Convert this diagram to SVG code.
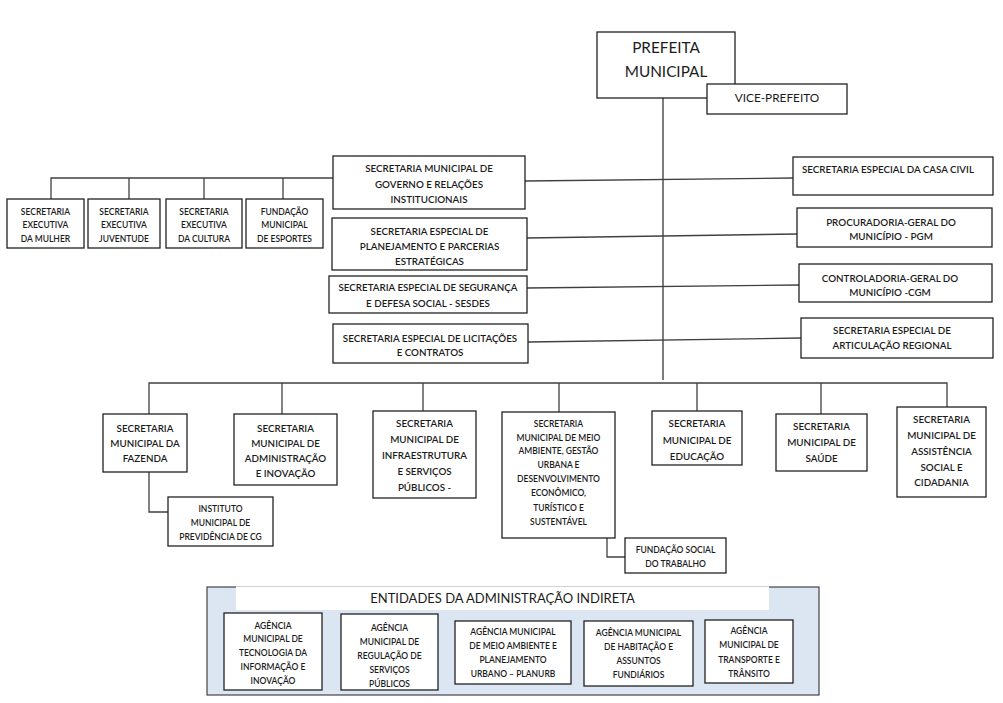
<svg xmlns="http://www.w3.org/2000/svg" width="1003" height="703" viewBox="0 0 1003 703">
<style>
  .box { fill: #ffffff; stroke: #222222; stroke-width: 1.3; }
  .t { font-family: Lato, "Liberation Sans", sans-serif; fill: #1b1b1b; text-anchor: middle; font-weight: 600; }
  .m { font-size: 9.8px; }
  .s { font-size: 8.5px; }
  .big { font-size: 15.3px; font-weight: normal; }
  .vp { font-size: 11.8px; font-weight: normal; }
  .title { font-size: 13px; font-weight: normal; }
  .ln { fill: none; stroke: #404040; stroke-width: 1.3; }
  .trunk { fill: none; stroke: #111111; stroke-width: 1.1; }
</style>
<rect width="1003" height="703" fill="#ffffff"/>

<g id="connectors">
  <line class="trunk" x1="663" y1="98" x2="663" y2="380"/>
  <polyline class="ln" points="51,199 51,178 333,178"/>
  <line class="ln" x1="129" y1="178" x2="129" y2="199"/>
  <line class="ln" x1="204" y1="178" x2="204" y2="199"/>
  <line class="ln" x1="283" y1="178" x2="283" y2="199"/>
  <line class="ln" x1="525" y1="181" x2="793" y2="178"/>
  <line class="ln" x1="527" y1="238" x2="797" y2="234"/>
  <line class="ln" x1="527" y1="288" x2="799" y2="285"/>
  <line class="ln" x1="528" y1="342" x2="801" y2="338"/>
  <polyline class="ln" points="149,414 149,383 947,383 947,407"/>
  <line class="ln" x1="282" y1="383" x2="282" y2="414"/>
  <line class="ln" x1="423" y1="383" x2="423" y2="411"/>
  <line class="ln" x1="559" y1="383" x2="559" y2="412"/>
  <line class="ln" x1="697" y1="383" x2="697" y2="411"/>
  <line class="ln" x1="821" y1="383" x2="821" y2="414"/>
  <polyline class="ln" points="149,472 149,512 168,512"/>
  <polyline class="ln" points="607,530 607,557 625,557"/>
</g>

<g id="prefeita">
  <rect class="box" x="597" y="32" width="138" height="66"/>
  <text class="t big" x="666" y="53">PREFEITA</text>
  <text class="t big" x="666" y="77">MUNICIPAL</text>
</g>
<g id="vice">
  <rect class="box" x="707" y="84" width="140" height="30"/>
  <text class="t vp" x="777" y="102">VICE-PREFEITO</text>
</g>

<g id="sec-mulher">
  <rect class="box" x="7" y="199" width="77" height="49"/>
  <text class="t s" x="45.5" y="214.5">SECRETARIA</text>
  <text class="t s" x="45.5" y="228">EXECUTIVA</text>
  <text class="t s" x="45.5" y="241.5">DA MULHER</text>
</g>
<g id="sec-juventude">
  <rect class="box" x="88" y="199" width="72" height="49"/>
  <text class="t s" x="124" y="214.5">SECRETARIA</text>
  <text class="t s" x="124" y="228">EXECUTIVA</text>
  <text class="t s" x="124" y="241.5">JUVENTUDE</text>
</g>
<g id="sec-cultura">
  <rect class="box" x="166" y="199" width="76" height="49"/>
  <text class="t s" x="204" y="214.5">SECRETARIA</text>
  <text class="t s" x="204" y="228">EXECUTIVA</text>
  <text class="t s" x="204" y="241.5">DA CULTURA</text>
</g>
<g id="fund-esportes">
  <rect class="box" x="246" y="199" width="77" height="49"/>
  <text class="t s" x="284.5" y="214.5">FUNDAÇÃO</text>
  <text class="t s" x="284.5" y="228">MUNICIPAL</text>
  <text class="t s" x="284.5" y="241.5">DE ESPORTES</text>
</g>

<g id="sec-governo">
  <rect class="box" x="333" y="156" width="192" height="53"/>
  <text class="t m" x="429" y="172">SECRETARIA MUNICIPAL DE</text>
  <text class="t m" x="429" y="187.5">GOVERNO E RELAÇÕES</text>
  <text class="t m" x="429" y="203">INSTITUCIONAIS</text>
</g>
<g id="sec-planejamento">
  <rect class="box" x="332" y="218" width="195" height="52"/>
  <text class="t m" x="429.5" y="235">SECRETARIA ESPECIAL DE</text>
  <text class="t m" x="429.5" y="250">PLANEJAMENTO E PARCERIAS</text>
  <text class="t m" x="429.5" y="265">ESTRATÉGICAS</text>
</g>
<g id="sec-seguranca">
  <rect class="box" x="329" y="276" width="198" height="37"/>
  <text class="t m" x="428" y="291">SECRETARIA ESPECIAL DE SEGURANÇA</text>
  <text class="t m" x="428" y="307">E DEFESA SOCIAL - SESDES</text>
</g>
<g id="sec-licitacoes">
  <rect class="box" x="333" y="324" width="195" height="39"/>
  <text class="t m" x="430" y="342">SECRETARIA ESPECIAL DE LICITAÇÕES</text>
  <text class="t m" x="430" y="356">E CONTRATOS</text>
</g>

<g id="casa-civil">
  <rect class="box" x="793" y="157" width="200" height="38"/>
  <text class="t m" x="888" y="173">SECRETARIA ESPECIAL DA CASA CIVIL</text>
</g>
<g id="pgm">
  <rect class="box" x="797" y="208" width="195" height="39"/>
  <text class="t m" x="891" y="226">PROCURADORIA-GERAL DO</text>
  <text class="t m" x="891" y="240">MUNICÍPIO - PGM</text>
</g>
<g id="cgm">
  <rect class="box" x="799" y="264" width="193" height="38"/>
  <text class="t m" x="890" y="282">CONTROLADORIA-GERAL DO</text>
  <text class="t m" x="890" y="296">MUNICÍPIO -CGM</text>
</g>
<g id="articulacao">
  <rect class="box" x="801" y="318" width="192" height="40"/>
  <text class="t m" x="892" y="334">SECRETARIA ESPECIAL DE</text>
  <text class="t m" x="892" y="349">ARTICULAÇÃO REGIONAL</text>
</g>

<g id="fazenda">
  <rect class="box" x="103" y="414" width="84" height="58"/>
  <text class="t m" x="145" y="432">SECRETARIA</text>
  <text class="t m" x="145" y="447">MUNICIPAL DA</text>
  <text class="t m" x="145" y="462">FAZENDA</text>
</g>
<g id="instituto">
  <rect class="box" x="168" y="497" width="105" height="49"/>
  <text class="t s" x="220.5" y="511.5">INSTITUTO</text>
  <text class="t s" x="220.5" y="525.5">MUNICIPAL DE</text>
  <text class="t s" x="220.5" y="539.5">PREVIDÊNCIA DE CG</text>
</g>
<g id="administracao">
  <rect class="box" x="234" y="414" width="103" height="71"/>
  <text class="t m" x="285.5" y="432">SECRETARIA</text>
  <text class="t m" x="285.5" y="446.5">MUNICIPAL DE</text>
  <text class="t m" x="285.5" y="462">ADMINISTRAÇÃO</text>
  <text class="t m" x="285.5" y="477">E INOVAÇÃO</text>
</g>
<g id="infraestrutura">
  <rect class="box" x="373" y="411" width="103" height="87"/>
  <text class="t m" x="424.5" y="427">SECRETARIA</text>
  <text class="t m" x="424.5" y="443">MUNICIPAL DE</text>
  <text class="t m" x="424.5" y="459">INFRAESTRUTURA</text>
  <text class="t m" x="424.5" y="475">E SERVIÇOS</text>
  <text class="t m" x="424.5" y="491">PÚBLICOS -</text>
</g>
<g id="meio-ambiente">
  <rect class="box" x="502" y="412" width="113" height="126"/>
  <text class="t s" x="558.5" y="426.5">SECRETARIA</text>
  <text class="t s" x="558.5" y="440.5">MUNICIPAL DE MEIO</text>
  <text class="t s" x="558.5" y="454">AMBIENTE, GESTÃO</text>
  <text class="t s" x="558.5" y="468">URBANA E</text>
  <text class="t s" x="558.5" y="482">DESENVOLVIMENTO</text>
  <text class="t s" x="558.5" y="496">ECONÔMICO,</text>
  <text class="t s" x="558.5" y="510.5">TURÍSTICO E</text>
  <text class="t s" x="558.5" y="524.5">SUSTENTÁVEL</text>
</g>
<g id="fundacao-social">
  <rect class="box" x="625" y="538" width="101" height="35"/>
  <text class="t s" x="675.5" y="552.5">FUNDAÇÃO SOCIAL</text>
  <text class="t s" x="675.5" y="566.5">DO TRABALHO</text>
</g>
<g id="educacao">
  <rect class="box" x="652" y="411" width="90" height="54"/>
  <text class="t m" x="697" y="427">SECRETARIA</text>
  <text class="t m" x="697" y="443.5">MUNICIPAL DE</text>
  <text class="t m" x="697" y="460">EDUCAÇÃO</text>
</g>
<g id="saude">
  <rect class="box" x="776" y="414" width="91" height="57"/>
  <text class="t m" x="821.5" y="430">SECRETARIA</text>
  <text class="t m" x="821.5" y="446">MUNICIPAL DE</text>
  <text class="t m" x="821.5" y="462">SAÚDE</text>
</g>
<g id="assistencia">
  <rect class="box" x="897" y="407" width="89" height="90"/>
  <text class="t m" x="941.5" y="423">SECRETARIA</text>
  <text class="t m" x="941.5" y="439">MUNICIPAL DE</text>
  <text class="t m" x="941.5" y="455">ASSISTÊNCIA</text>
  <text class="t m" x="941.5" y="470.5">SOCIAL E</text>
  <text class="t m" x="941.5" y="486">CIDADANIA</text>
</g>

<g id="indireta">
  <rect x="207" y="587" width="612" height="108" fill="#dce6f2" stroke="#333333" stroke-width="1.1"/>
  <rect x="236" y="586.4" width="533" height="23.6" fill="#ffffff"/>
  <text class="t title" x="502.5" y="602.5">ENTIDADES DA ADMINISTRAÇÃO INDIRETA</text>
</g>
<g id="ag-tecnologia">
  <rect class="box" x="224" y="613" width="98" height="77"/>
  <text class="t s" x="273" y="628.5">AGÊNCIA</text>
  <text class="t s" x="273" y="642">MUNICIPAL DE</text>
  <text class="t s" x="273" y="655.5">TECNOLOGIA DA</text>
  <text class="t s" x="273" y="669.5">INFORMAÇÃO E</text>
  <text class="t s" x="273" y="684">INOVAÇÃO</text>
</g>
<g id="ag-regulacao">
  <rect class="box" x="341" y="614" width="97" height="76"/>
  <text class="t s" x="389.5" y="630.5">AGÊNCIA</text>
  <text class="t s" x="389.5" y="644.5">MUNICIPAL DE</text>
  <text class="t s" x="389.5" y="658.5">REGULAÇÃO DE</text>
  <text class="t s" x="389.5" y="672.5">SERVIÇOS</text>
  <text class="t s" x="389.5" y="686.5">PÚBLICOS</text>
</g>
<g id="ag-planurb">
  <rect class="box" x="455" y="621" width="116" height="63"/>
  <text class="t s" x="513" y="634.5">AGÊNCIA MUNICIPAL</text>
  <text class="t s" x="513" y="648.5">DE MEIO AMBIENTE E</text>
  <text class="t s" x="513" y="662.5">PLANEJAMENTO</text>
  <text class="t s" x="513" y="676.5">URBANO – PLANURB</text>
</g>
<g id="ag-habitacao">
  <rect class="box" x="584" y="621" width="109" height="65"/>
  <text class="t s" x="638.5" y="635.5">AGÊNCIA MUNICIPAL</text>
  <text class="t s" x="638.5" y="649.5">DE HABITAÇÃO E</text>
  <text class="t s" x="638.5" y="663.5">ASSUNTOS</text>
  <text class="t s" x="638.5" y="677.5">FUNDIÁRIOS</text>
</g>
<g id="ag-transito">
  <rect class="box" x="705" y="620" width="88" height="63"/>
  <text class="t s" x="749" y="633.5">AGÊNCIA</text>
  <text class="t s" x="749" y="648">MUNICIPAL DE</text>
  <text class="t s" x="749" y="662.5">TRANSPORTE E</text>
  <text class="t s" x="749" y="676.5">TRÂNSITO</text>
</g>
</svg>
